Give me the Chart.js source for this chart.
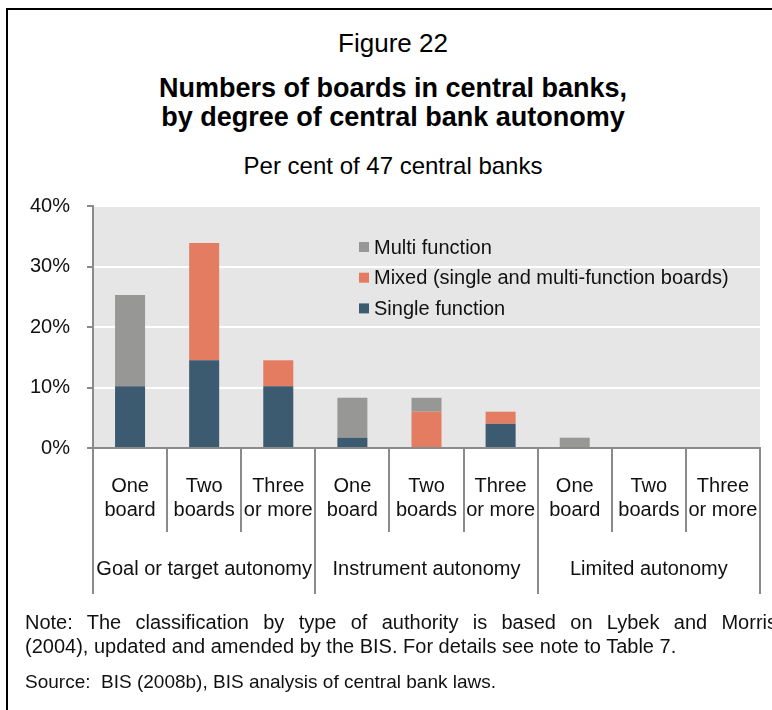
<!DOCTYPE html>
<html>
<head>
<meta charset="utf-8">
<script src="https://cdn.jsdelivr.net/npm/chart.js@4.4.1/dist/chart.umd.min.js"></script>
<style>
  html, body { margin: 0; padding: 0; background: #fff; }
  #page { position: relative; width: 772px; height: 710px; overflow: hidden; font-family: "Liberation Sans", Arial, sans-serif; color: #000; }
  #frame { position: absolute; left: 6px; top: 8px; width: 800px; height: 800px; border-left: 2px solid #000; border-top: 2px solid #000; }
  canvas { position: absolute; left: 0; top: 0; }
  .txt { position: absolute; left: 0; width: 786px; text-align: center; white-space: nowrap; }
  #fig { top: 30px; font-size: 26px; line-height: 26px; }
  #title { top: 74px; font-size: 27px; line-height: 29px; font-weight: bold; }
  #sub { top: 154px; font-size: 24px; line-height: 24px; }
  .note { position: absolute; left: 25px; font-family: "Liberation Sans Narrow", "Arial Narrow", "Liberation Sans", sans-serif; font-size: 20px; line-height: 20px; white-space: nowrap; color: #111; }
  #n1 { top: 612px; width: 752px; text-align: justify; text-align-last: justify; }
  #n2 { top: 636px; }
  #n3 { top: 672px; font-size: 19px; line-height: 19px; }
</style>
</head>
<body>
<div id="page">
  <div id="frame"></div>
  <div class="txt" id="fig">Figure 22</div>
  <div class="txt" id="title">Numbers of boards in central banks,<br>by degree of central bank autonomy</div>
  <div class="txt" id="sub">Per cent of 47 central banks</div>
  <canvas id="chart" width="772" height="710"></canvas>
  <div class="note" id="n1">Note: The classification by type of authority is based on Lybek and Morris</div>
  <div class="note" id="n2">(2004), updated and amended by the BIS. For details see note to Table 7.</div>
  <div class="note" id="n3">Source:&nbsp; BIS (2008b), BIS analysis of central bank laws.</div>
</div>
<script>
// number of boards, per autonomy group
const boardLabels = [
    ['One', 'board'], ['Two', 'boards'], ['Three', 'or more'],
    ['One', 'board'], ['Two', 'boards'], ['Three', 'or more'],
    ['One', 'board'], ['Two', 'boards'], ['Three', 'or more']
];
const groupLabels = ['Goal or target autonomy', 'Instrument autonomy', 'Limited autonomy'];

// per cent of 47 central banks
const singleFunction = [10.2, 14.5, 10.2, 1.7, 0, 4.0, 0, 0, 0];
const mixedBoards = [0, 19.4, 4.3, 0, 6.0, 2.0, 0, 0, 0];
const multiFunction = [15.1, 0, 0, 6.6, 2.3, 0, 1.7, 0, 0];

const yTicks = [0, 10, 20, 30, 40];

const FONT = '"Liberation Sans", Arial, sans-serif';
const AXIS_GREY = '#8a8a8a';

const plotBackground = {
    id: 'plotBackground',
    beforeDraw: (chart) => {
        const a = chart.chartArea;
        const ctx = chart.ctx;
        ctx.save();
        ctx.fillStyle = '#e6e6e6';
        ctx.fillRect(a.left, a.top, a.right - a.left, a.bottom - a.top);
        ctx.restore();
    }
};

// two-level category axis: board counts, then autonomy groups
const groupedAxis = {
    id: 'groupedAxis',
    afterDraw: (chart) => {
        const x = chart.scales.x;
        const ctx = chart.ctx;
        const bottom = chart.chartArea.bottom;
        const step = x.getPixelForValue(1) - x.getPixelForValue(0);
        ctx.save();
        ctx.strokeStyle = AXIS_GREY;
        ctx.lineWidth = 2;
        for (let k = 0; k <= boardLabels.length; k++) {
            const px = Math.round(x.getPixelForValue(k) - step / 2);
            const len = (k % 3 === 0) ? 146 : 84;
            ctx.beginPath();
            ctx.moveTo(px, bottom);
            ctx.lineTo(px, bottom + len);
            ctx.stroke();
        }
        ctx.fillStyle = '#111';
        ctx.font = '20px ' + FONT;
        ctx.textAlign = 'center';
        ctx.textBaseline = 'alphabetic';
        boardLabels.forEach((lines, i) => {
            const cx = x.getPixelForValue(i);
            ctx.fillText(lines[0], cx, bottom + 44);
            ctx.fillText(lines[1], cx, bottom + 67.5);
        });
        groupLabels.forEach((g, j) => {
            const cx = x.getPixelForValue(j * 3 + 1);
            ctx.fillText(g, cx, bottom + 127);
        });
        ctx.restore();
    }
};

// legend sits inside the plot, top series first
const innerLegend = {
    id: 'innerLegend',
    afterDraw: (chart) => {
        const a = chart.chartArea;
        const ctx = chart.ctx;
        const sets = chart.data.datasets.slice().reverse();
        ctx.save();
        ctx.font = '20px ' + FONT;
        ctx.textBaseline = 'middle';
        ctx.textAlign = 'left';
        sets.forEach((ds, i) => {
            const y = a.top + 41 + i * 30.7;
            ctx.fillStyle = ds.backgroundColor;
            ctx.fillRect(a.left + 266, y - 5, 10, 10);
            ctx.fillStyle = '#111';
            ctx.fillText(ds.label, a.left + 281, y + 1);
        });
        ctx.restore();
    }
};

const ctx = document.getElementById('chart').getContext('2d');
new Chart(ctx, {
    type: 'bar',
    data: {
        labels: boardLabels.map(l => l.join(' ')),
        datasets: [
            { label: 'Single function', data: singleFunction, backgroundColor: '#3c5a70' },
            { label: 'Mixed (single and multi-function boards)', data: mixedBoards, backgroundColor: '#e37c61' },
            { label: 'Multi function', data: multiFunction, backgroundColor: '#979795' }
        ]
    },
    options: {
        responsive: false,
        animation: false,
        layout: { padding: { left: 0, right: 12, top: 206, bottom: 0 } },
        datasets: { bar: { categoryPercentage: 1, barPercentage: 0.405 } },
        plugins: {
            legend: { display: false },
            title: { display: false },
            tooltip: { enabled: false }
        },
        scales: {
            x: {
                stacked: true,
                afterFit: (s) => { s.height = 262; },
                ticks: { display: false },
                grid: { display: false, drawTicks: false },
                border: { display: true, color: AXIS_GREY, width: 2 }
            },
            y: {
                stacked: true,
                min: 0,
                max: 40,
                afterFit: (s) => { s.width = 93; },
                afterBuildTicks: (s) => { s.ticks = yTicks.map(v => ({ value: v })); },
                ticks: {
                    padding: 17,
                    color: '#111',
                    font: { family: FONT, size: 20 },
                    callback: (v) => v + '%'
                },
                grid: { color: '#ffffff', lineWidth: 2, tickColor: AXIS_GREY, tickLength: 6, tickWidth: 2 },
                border: { display: true, color: AXIS_GREY, width: 2 }
            }
        }
    },
    plugins: [plotBackground, groupedAxis, innerLegend]
});
</script>
</body>
</html>
